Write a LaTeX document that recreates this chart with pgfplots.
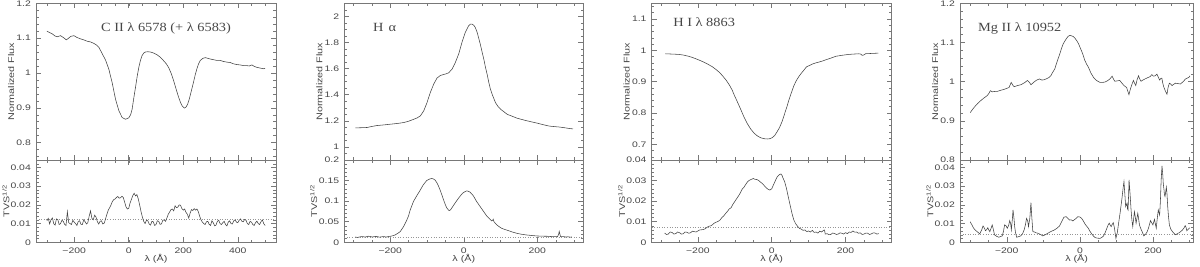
\documentclass[border=0pt]{standalone}
\usepackage{fontspec}
\usepackage{pgfplots}
\pgfplotsset{compat=1.18}
\setmainfont{Liberation Sans}
\newfontfamily\tickfont{Liberation Sans}[FakeStretch=1.3]
\newfontfamily\titlefont{Liberation Serif}[FakeStretch=1.15]
\definecolor{framec}{RGB}{120,120,120}
\definecolor{curvec}{RGB}{65,65,65}
\definecolor{textc}{RGB}{70,70,70}
\definecolor{dotc}{RGB}{150,150,150}
\newcommand\ttl[1]{{\titlefont\fontsize{12.5}{14}\selectfont #1}}
\pgfplotsset{
 base/.style={scale only axis, anchor=south west, tick align=inside,
  scaled y ticks=false, scaled x ticks=false,
  xtick pos=both, ytick pos=both, xticklabel pos=lower, yticklabel pos=left,
  major tick length=5pt, minor tick length=2.6pt,
  axis line style={draw=framec, line width=0.6pt},
  every tick/.append style={draw=framec, line width=0.5pt},
  every minor tick/.append style={draw=framec, line width=0.45pt},
  tick label style={font=\tickfont\fontsize{8}{9}\selectfont, text=textc},
  label style={font=\tickfont\fontsize{8.3}{10}\selectfont, text=textc},
  yticklabel style={inner sep=0pt, xshift=-5pt},
  xticklabel style={inner sep=0pt, yshift=-5pt}},
 toppan/.style={base, height=156.7pt, xticklabels={},
  ylabel={Normalized Flux}, ylabel style={at={(axis description cs:#1,0.5)}, anchor=center}},
 botpan/.style={base, height=82.3pt, xlabel={λ (Å)},
  xlabel style={at={(axis description cs:0.5,-0.195)}, anchor=center},
  ylabel={TVS\textsuperscript{1/2}}, ylabel style={at={(axis description cs:#1,0.5)}, anchor=center}},
 cv/.style={draw=curvec, line width=0.55pt, mark=none},
 dl/.style={draw=dotc, dotted, line width=0.55pt, mark=none}
}
\begin{document}
\begin{tikzpicture}[x=1pt,y=1pt]
\useasboundingbox (0,0) rectangle (1200,267);
% ---------------- Panel 1: C II
\begin{axis}[toppan=-0.104, at={(36pt,107pt)}, width=240pt,
 xmin=-340, xmax=540, ymin=0.75, ymax=1.2,
 xtick={-200,0,200,400}, minor xtick={-300,-250,...,500},
 ytick={0.8,0.9,1,1.1,1.2}, yticklabels={0.8,0.9,1,1.1,1.2},
 minor ytick={0.76,0.78,...,1.2}]
\addplot[cv] coordinates {(-300,1.120) (-290,1.116) (-280,1.112) (-270,1.106) (-262,1.104) (-250,1.107) (-240,1.102) (-229,1.095) (-220,1.100) (-213,1.105) (-201,1.107) (-190,1.102) (-177,1.098) (-165,1.095) (-152,1.091) (-140,1.089) (-128,1.085) (-118,1.080) (-109,1.073) (-97,1.055) (-85,1.037) (-73,1.011) (-61,0.973) (-48.5,0.925) (-36,0.891) (-24,0.872) (-12,0.867) (0,0.871) (7,0.880) (12.5,0.896) (18,0.925) (24.7,0.958) (31,0.990) (37,1.016) (43,1.036) (49,1.050) (55,1.057) (61,1.060) (70,1.061) (80,1.060) (92,1.057) (104,1.052) (116,1.045) (128,1.035) (138,1.026) (146.7,1.015) (156,0.998) (165,0.977) (174,0.953) (183,0.930) (190,0.915) (195.5,0.906) (204,0.899) (210,0.902) (216,0.910) (222,0.925) (230,0.950) (238,0.975) (244,0.995) (250,1.012) (256,1.026) (262.6,1.036) (272,1.042) (281,1.044) (290,1.042) (299,1.040) (311,1.038) (323,1.036) (335,1.036) (347,1.033) (360,1.031) (372,1.030) (385,1.026) (397,1.024) (409,1.023) (421,1.021) (433,1.021) (442,1.020) (451.6,1.023) (460,1.019) (470,1.016) (482,1.014) (494,1.012) (500,1.013)};
\node[anchor=base west, inner sep=0pt, text=textc] at (axis cs:-102,1.120) {\ttl{C II λ 6578 (+ λ 6583)}};
\end{axis}
\begin{axis}[botpan=-0.125, at={(36pt,24.7pt)}, width=240pt,
 xmin=-340, xmax=540, ymin=0, ymax=0.044,
 xtick={-200,0,200,400}, xticklabels={−200,0,200,400}, minor xtick={-300,-250,...,500},
 ytick={0,0.01,0.02,0.03,0.04}, yticklabels={0,0.01,0.02,0.03,0.04},
 minor ytick={0.002,0.004,...,0.044}]
\addplot[dl] coordinates {(-340,0.0123) (540,0.0123)};
\addplot[cv] coordinates {(-300,0.0115) (-295,0.0128) (-290,0.0098) (-285,0.0120) (-280,0.0130) (-275,0.0100) (-270,0.0092) (-265,0.0125) (-260,0.0121) (-255,0.0095) (-250,0.0100) (-245,0.0118) (-240,0.0112) (-235,0.0096) (-230,0.0090) (-225,0.0164) (-220,0.0105) (-215,0.0100) (-210,0.0095) (-205,0.0118) (-200,0.0108) (-195,0.0100) (-190,0.0090) (-185,0.0112) (-180,0.0115) (-175,0.0096) (-170,0.0095) (-165,0.0120) (-160,0.0110) (-155,0.0098) (-150,0.0105) (-145,0.0140) (-140,0.0168) (-135,0.0128) (-130,0.0120) (-125,0.0145) (-120,0.0135) (-115,0.0110) (-110,0.0098) (-105,0.0112) (-100,0.0115) (-95,0.0098) (-90,0.0102) (-85,0.0125) (-80,0.0150) (-75,0.0172) (-70,0.0185) (-65,0.0200) (-60,0.0218) (-55,0.0228) (-50,0.0232) (-45,0.0240) (-40,0.0245) (-35,0.0236) (-30,0.0238) (-25,0.0246) (-20,0.0240) (-15,0.0215) (-10,0.0190) (-5,0.0178) (0,0.0182) (5,0.0210) (10,0.0230) (15,0.0250) (20,0.0262) (25,0.0248) (30,0.0255) (35,0.0232) (40,0.0200) (45,0.0165) (50,0.0135) (55,0.0112) (60,0.0100) (65,0.0118) (70,0.0115) (75,0.0098) (80,0.0092) (85,0.0112) (90,0.0110) (95,0.0090) (100,0.0095) (105,0.0115) (110,0.0112) (115,0.0096) (120,0.0098) (125,0.0118) (130,0.0120) (135,0.0112) (140,0.0130) (145,0.0150) (150,0.0162) (155,0.0175) (160,0.0178) (165,0.0168) (170,0.0195) (175,0.0185) (180,0.0188) (185,0.0200) (190,0.0198) (195,0.0180) (200,0.0172) (205,0.0178) (210,0.0160) (215,0.0150) (220,0.0130) (225,0.0155) (230,0.0175) (235,0.0170) (240,0.0180) (245,0.0172) (250,0.0178) (255,0.0165) (260,0.0140) (265,0.0120) (270,0.0108) (275,0.0100) (280,0.0095) (285,0.0110) (290,0.0112) (295,0.0096) (300,0.0090) (305,0.0115) (310,0.0105) (315,0.0088) (320,0.0092) (325,0.0112) (330,0.0118) (335,0.0100) (340,0.0095) (345,0.0105) (350,0.0112) (355,0.0095) (360,0.0088) (365,0.0108) (370,0.0115) (375,0.0100) (380,0.0098) (385,0.0115) (390,0.0120) (395,0.0108) (400,0.0105) (405,0.0118) (410,0.0125) (415,0.0112) (420,0.0110) (425,0.0122) (430,0.0118) (435,0.0100) (440,0.0095) (445,0.0112) (450,0.0108) (455,0.0095) (460,0.0090) (465,0.0105) (470,0.0113) (475,0.0100) (480,0.0095) (485,0.0110) (490,0.0120) (495,0.0100) (500,0.0090)};
\end{axis}
% ---------------- Panel 2: H alpha
\begin{axis}[toppan=-0.104, at={(344.3pt,107pt)}, width=239pt,
 xmin=-325, xmax=325, ymin=0.9, ymax=2.1,
 xtick={-200,0,200}, minor xtick={-300,-250,...,300},
 ytick={1,1.2,1.4,1.6,1.8,2}, yticklabels={1,1.2,1.4,1.6,1.8,2},
 minor ytick={0.95,1.0,...,2.1}]
\addplot[cv] coordinates {(-295,1.146) (-280,1.147) (-263,1.149) (-250,1.157) (-236,1.164) (-220,1.168) (-200,1.174) (-180,1.180) (-163,1.187) (-150,1.197) (-136,1.212) (-127,1.222) (-118,1.238) (-109,1.276) (-100,1.340) (-91,1.417) (-82,1.480) (-73,1.527) (-64,1.547) (-55,1.555) (-50,1.558) (-41,1.568) (-32,1.596) (-23,1.647) (-14,1.711) (-5,1.800) (4,1.877) (13,1.928) (18,1.940) (22,1.941) (27,1.932) (31,1.916) (36,1.880) (40,1.839) (45,1.785) (50,1.724) (55,1.665) (59,1.609) (64,1.550) (68,1.494) (72,1.447) (77,1.404) (86,1.340) (93,1.310) (100,1.289) (118,1.250) (145,1.220) (165,1.205) (181,1.194) (200,1.182) (218,1.169) (232,1.160) (245,1.156) (258,1.153) (272,1.148) (285,1.142) (297,1.138)};
\node[anchor=base west, inner sep=0pt, text=textc] at (axis cs:-247,1.885) {\ttl{H\hspace{5pt}α}};
\end{axis}
\begin{axis}[botpan=-0.128, at={(344.3pt,24.7pt)}, width=239pt,
 xmin=-325, xmax=325, ymin=0, ymax=0.2,
 xtick={-200,0,200}, xticklabels={−200,0,200}, minor xtick={-300,-250,...,300},
 ytick={0,0.05,0.1,0.15,0.2}, yticklabels={0,0.05,0.1,0.15,0.2},
 minor ytick={0.01,0.02,...,0.2}]
\addplot[dl] coordinates {(-325,0.0122) (325,0.0122)};
\addplot[cv] coordinates {(-295,0.0130) (-290,0.0118) (-285,0.0125) (-280,0.0138) (-275,0.0140) (-270,0.0128) (-265,0.0135) (-260,0.0148) (-255,0.0142) (-250,0.0130) (-245,0.0135) (-240,0.0142) (-235,0.0138) (-230,0.0126) (-225,0.0130) (-220,0.0140) (-215,0.0135) (-210,0.0128) (-205,0.0140) (-200,0.0145) (-195,0.0155) (-187,0.0178) (-180,0.0215) (-173,0.0259) (-164,0.038) (-155,0.054) (-150,0.065) (-146,0.078) (-137,0.099) (-128,0.113) (-119,0.126) (-110,0.140) (-101,0.150) (-92,0.154) (-87,0.155) (-83,0.154) (-78,0.151) (-73.5,0.145) (-69,0.137) (-64.4,0.127) (-60,0.116) (-55,0.103) (-50,0.091) (-46,0.083) (-40,0.077) (-36,0.079) (-33,0.083) (-24,0.095) (-14.5,0.107) (-3.7,0.119) (3,0.123) (8,0.125) (12,0.124) (17,0.122) (26,0.113) (35,0.099) (42,0.090) (49,0.081) (56,0.072) (62.5,0.064) (70,0.057) (76,0.052) (79,0.054) (80,0.056) (82,0.050) (90,0.042) (96,0.038) (103,0.034) (112,0.031) (121.5,0.0283) (132,0.025) (144,0.0219) (157,0.0195) (171,0.0178) (185,0.0165) (199,0.0154) (215,0.0148) (230,0.0146) (240,0.0138) (248.5,0.0140) (255,0.0135) (258,0.0200) (259.5,0.0265) (261,0.0210) (263,0.0138) (271,0.0140) (277,0.0128) (283,0.0135) (289,0.0126) (294,0.0129)};
\end{axis}
% ---------------- Panel 3: H I
\begin{axis}[toppan=-0.104, at={(651.7pt,107pt)}, width=240pt,
 xmin=-325, xmax=325, ymin=0.65, ymax=1.15,
 xtick={-200,0,200}, minor xtick={-300,-250,...,300},
 ytick={0.7,0.8,0.9,1,1.1}, yticklabels={0.7,0.8,0.9,1,1.1},
 minor ytick={0.66,0.68,...,1.15}]
\addplot[cv] coordinates {(-288,0.989) (-270,0.988) (-252,0.987) (-240,0.985) (-225,0.981) (-212,0.976) (-199,0.970) (-185,0.963) (-172,0.955) (-160,0.947) (-150,0.938) (-141,0.929) (-132,0.917) (-123,0.904) (-114,0.888) (-107,0.873) (-101,0.856) (-92,0.833) (-83,0.809) (-75,0.787) (-66,0.766) (-57,0.749) (-48,0.736) (-39,0.727) (-30,0.721) (-21,0.718) (-12,0.717) (-5,0.718) (1,0.721) (8,0.728) (14,0.739) (21,0.753) (27.5,0.771) (34,0.794) (41,0.819) (47,0.843) (54,0.867) (60,0.887) (67,0.904) (74,0.917) (81,0.928) (88,0.938) (94,0.947) (103,0.952) (112,0.957) (120,0.960) (129.5,0.963) (138,0.966) (147,0.970) (160,0.975) (174,0.981) (190,0.984) (209,0.987) (222,0.988) (236,0.989) (241,0.988) (245,0.984) (249,0.985) (254,0.989) (270,0.990) (289,0.991)};
\node[anchor=base west, inner sep=0pt, text=textc] at (axis cs:-267,1.0745) {\ttl{H I λ 8863}};
\end{axis}
\begin{axis}[botpan=-0.125, at={(651.7pt,24.7pt)}, width=240pt,
 xmin=-325, xmax=325, ymin=0, ymax=0.04,
 xtick={-200,0,200}, xticklabels={−200,0,200}, minor xtick={-300,-250,...,300},
 ytick={0,0.01,0.02,0.03,0.04}, yticklabels={0,0.01,0.02,0.03,0.04},
 minor ytick={0.002,0.004,...,0.04}]
\addplot[dl] coordinates {(-325,0.0071) (325,0.0071)};
\addplot[cv] coordinates {(-290,0.0045) (-285,0.0038) (-280,0.0040) (-275,0.0050) (-270,0.0048) (-265,0.0040) (-260,0.0042) (-255,0.0050) (-250,0.0047) (-245,0.0040) (-240,0.0041) (-235,0.0050) (-230,0.0049) (-225,0.0044) (-220,0.0046) (-215,0.0054) (-210,0.0052) (-205,0.0050) (-200,0.0055) (-195,0.0060) (-190,0.0061) (-185,0.0062) (-180,0.0066) (-175,0.0073) (-170,0.0078) (-165,0.0080) (-160,0.0086) (-155,0.0094) (-150,0.0098) (-145,0.0102) (-140,0.0108) (-135,0.0120) (-130,0.0128) (-125,0.0140) (-120,0.0150) (-115,0.0162) (-110,0.0168) (-105,0.0185) (-100,0.0198) (-95,0.0212) (-90,0.0225) (-85,0.0240) (-80,0.0258) (-75,0.0268) (-70,0.0282) (-65,0.0295) (-60,0.0302) (-55,0.0306) (-50,0.0310) (-45,0.0306) (-40,0.0305) (-35,0.0300) (-30,0.0292) (-25,0.0285) (-20,0.0275) (-15,0.0265) (-10,0.0258) (-5,0.0254) (0,0.0260) (5,0.0280) (10,0.0300) (15,0.0318) (20,0.0328) (25,0.0332) (28,0.0325) (30,0.0315) (35,0.0295) (40,0.0262) (45,0.0220) (50,0.0180) (55,0.0140) (60,0.0108) (65,0.0090) (70,0.0078) (75,0.0068) (80,0.0064) (85,0.0058) (90,0.0060) (95,0.0052) (100,0.0055) (105,0.0050) (110,0.0058) (115,0.0048) (120,0.0050) (125,0.0045) (130,0.0054) (135,0.0050) (140,0.0058) (143,0.0060) (145,0.0040) (150,0.0042) (155,0.0037) (160,0.0038) (165,0.0045) (170,0.0043) (175,0.0038) (180,0.0040) (185,0.0046) (190,0.0044) (195,0.0040) (200,0.0047) (205,0.0042) (210,0.0050) (215,0.0048) (220,0.0055) (225,0.0049) (230,0.0050) (235,0.0044) (240,0.0046) (245,0.0038) (250,0.0040) (255,0.0045) (260,0.0044) (265,0.0038) (270,0.0041) (275,0.0046) (280,0.0045) (285,0.0040) (290,0.0042)};
\end{axis}
% ---------------- Panel 4: Mg II
\begin{axis}[toppan=-0.107, at={(960pt,107pt)}, width=233.3pt,
 xmin=-328, xmax=310, ymin=0.8, ymax=1.2,
 xtick={-200,0,200}, minor xtick={-300,-250,...,300},
 ytick={0.8,0.9,1,1.1,1.2}, yticklabels={0.8,0.9,1,1.1,1.2},
 minor ytick={0.82,0.84,...,1.2}]
\addplot[cv] coordinates {(-300,0.921) (-293,0.930) (-286,0.938) (-279,0.945) (-272,0.951) (-263,0.958) (-254,0.964) (-249,0.970) (-245,0.977) (-240,0.974) (-233,0.975) (-226,0.975) (-217,0.978) (-208,0.980) (-200,0.983) (-194,0.985) (-188,0.998) (-183,0.990) (-180,0.987) (-171,0.990) (-162,0.992) (-152,0.997) (-143.5,1.003) (-138,0.998) (-134,0.992) (-127,0.998) (-120,1.003) (-111,1.007) (-104,1.004) (-97.5,1.005) (-90,1.008) (-84,1.011) (-79,1.016) (-74.5,1.024) (-69,1.032) (-65,1.044) (-60,1.058) (-55,1.071) (-50,1.086) (-46,1.096) (-41,1.104) (-37,1.110) (-32,1.116) (-27.6,1.118) (-23,1.117) (-18,1.115) (-13,1.110) (-9,1.105) (-4,1.097) (0,1.088) (5,1.077) (9,1.067) (13,1.055) (18,1.045) (23,1.037) (30,1.022) (37,1.011) (45,1.003) (55,0.998) (62,0.998) (68,0.999) (75,1.002) (82,1.007) (88,1.014) (92,1.006) (95.6,1.001) (102,1.002) (109,1.003) (115,0.996) (120.4,0.990) (127.7,0.985) (131,0.975) (134,0.967) (137,0.978) (140,0.987) (146,1.003) (149,0.997) (152.6,0.990) (156,1.004) (160,1.015) (164,1.006) (167,1.001) (172,1.004) (178,1.007) (185,1.010) (192,1.013) (196.7,1.018) (201,1.014) (206,1.015) (210.5,1.019) (214,1.012) (218,1.004) (221,1.008) (224,1.009) (226,0.998) (229,0.987) (234,0.975) (238,0.968) (241,0.985) (244.5,0.996) (248,0.994) (252,0.990) (256,0.993) (261,0.996) (268,0.995) (275,0.994) (282,1.000) (289,1.007) (298,1.011) (301,1.015)};
\node[anchor=base west, inner sep=0pt, text=textc] at (axis cs:-279,1.128) {\ttl{Mg II λ 10952}};
\end{axis}
\begin{axis}[botpan=-0.129, at={(960pt,24.7pt)}, width=233.3pt,
 xmin=-328, xmax=310, ymin=0, ymax=0.044,
 xtick={-200,0,200}, xticklabels={−200,0,200}, minor xtick={-300,-250,...,300},
 ytick={0,0.01,0.02,0.03,0.04}, yticklabels={0,0.01,0.02,0.03,0.04},
 minor ytick={0.002,0.004,...,0.044}]
\addplot[dl] coordinates {(-328,0.0043) (310,0.0043)};
\addplot[cv] coordinates {(-300,0.0110) (-296,0.0095) (-290.6,0.0075) (-285,0.0063) (-281,0.0057) (-277,0.0050) (-274,0.0045) (-269,0.0065) (-265,0.0087) (-261,0.0075) (-258.4,0.0062) (-255,0.0068) (-252,0.0078) (-249,0.0065) (-246.5,0.0057) (-243,0.0075) (-240,0.0093) (-237,0.0070) (-233.6,0.0040) (-228,0.0032) (-221.7,0.0027) (-217,0.0031) (-212.5,0.0034) (-209,0.0060) (-206,0.0093) (-202,0.0088) (-198.7,0.0075) (-195,0.0090) (-192,0.0116) (-189.5,0.0100) (-187.6,0.0066) (-185,0.0120) (-183,0.0173) (-180.5,0.0130) (-178.5,0.0084) (-176,0.0050) (-173,0.0027) (-168,0.0030) (-162,0.0034) (-157,0.0045) (-152.7,0.0066) (-149,0.0095) (-146,0.0128) (-143,0.0115) (-140.7,0.0084) (-137,0.0130) (-134,0.0212) (-131.5,0.0130) (-128.8,0.0057) (-124,0.0055) (-120.5,0.0051) (-116,0.0049) (-111.3,0.0045) (-106,0.0040) (-102,0.0034) (-95,0.0040) (-88.3,0.0048) (-79,0.0058) (-70,0.0066) (-63,0.0075) (-56,0.0087) (-50,0.0110) (-44,0.0134) (-37.8,0.0137) (-33,0.0128) (-28.6,0.0119) (-24,0.0120) (-19.4,0.0114) (-14,0.0123) (-10.2,0.0128) (-5.6,0.0137) (0,0.0135) (4.6,0.0128) (9,0.0115) (13.8,0.0098) (18,0.0087) (23,0.0075) (27,0.0060) (32.2,0.0045) (37,0.0033) (41.4,0.0025) (48,0.0022) (55,0.0021) (60,0.0026) (64.4,0.0034) (69,0.0052) (73.6,0.0075) (77,0.0092) (80,0.0102) (83,0.0090) (85.5,0.0084) (88,0.0095) (91,0.0105) (94,0.0080) (98.4,0.0021) (102,0.0050) (105.7,0.0102) (110,0.0160) (115,0.0236) (118,0.0290) (120.4,0.0325) (123,0.0250) (125,0.0191) (127,0.0200) (128.7,0.0209) (130,0.0180) (131.5,0.0173) (133,0.0250) (134.3,0.0334) (137,0.0260) (139.8,0.0173) (142,0.0120) (144.4,0.0084) (146.5,0.0120) (149,0.0164) (151,0.0140) (153.5,0.0102) (156,0.0130) (158.2,0.0155) (160.5,0.0125) (162.7,0.0093) (166,0.0075) (170,0.0057) (174.7,0.0034) (179,0.0042) (184,0.0057) (188,0.0080) (193,0.0116) (196,0.0105) (199.5,0.0093) (202,0.0110) (204,0.0123) (206,0.0100) (208.7,0.0075) (211,0.0120) (214.2,0.0173) (216,0.0160) (217.9,0.0146) (220,0.0220) (222,0.0330) (224.4,0.0409) (226.5,0.0360) (228,0.0310) (229.9,0.0280) (231,0.0255) (232.6,0.0245) (234.5,0.0270) (236.3,0.0295) (238,0.0260) (240,0.0191) (242,0.0140) (244.6,0.0093) (248,0.0072) (252.9,0.0057) (257,0.0048) (262,0.0040) (266,0.0046) (271.2,0.0051) (276,0.0058) (280.4,0.0066) (284,0.0075) (287.8,0.0089) (290,0.0080) (292.4,0.0062) (295,0.0068) (298.8,0.0075) (300,0.0078)};
\end{axis}
\end{tikzpicture}
\end{document}
